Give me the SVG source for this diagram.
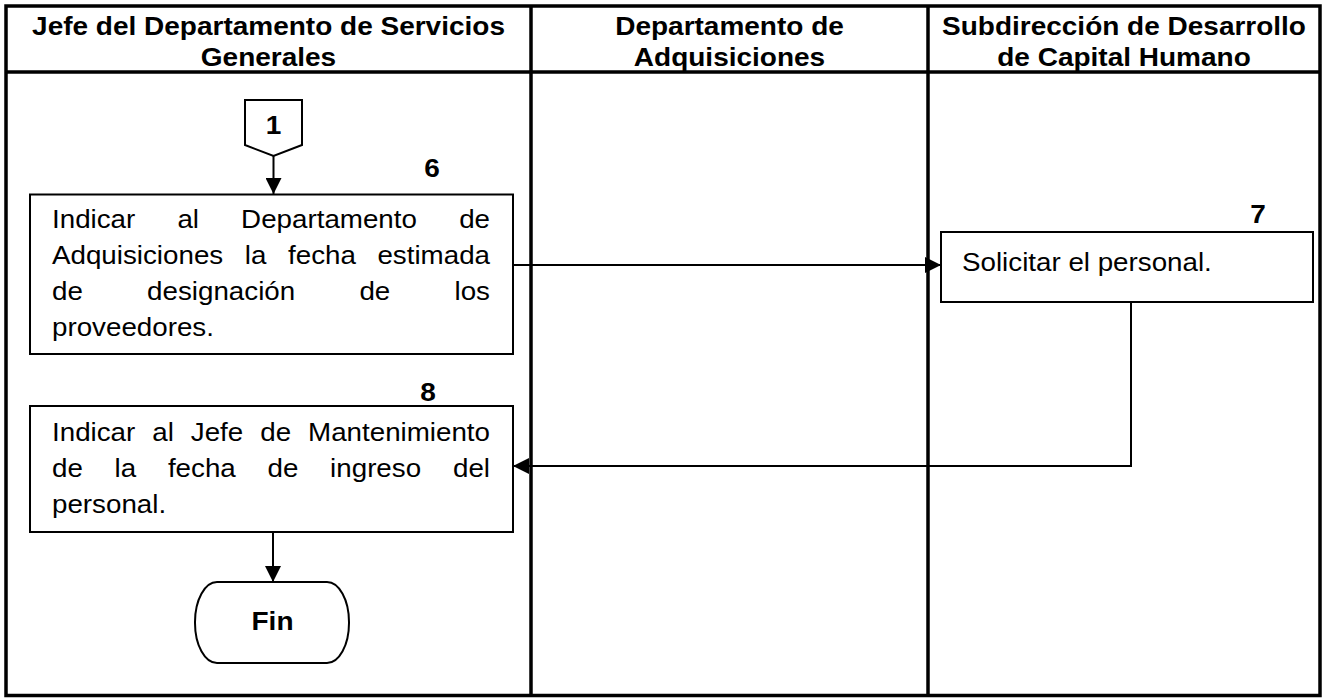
<svg xmlns="http://www.w3.org/2000/svg" width="1328" height="698" viewBox="0 0 1328 698">
<style>
.frame{fill:none;stroke:#000;stroke-width:3.5}
.box{fill:#fff;stroke:#000;stroke-width:2}
.conn{fill:none;stroke:#000;stroke-width:2}
.h{font-family:"Liberation Sans",Arial,sans-serif;font-weight:bold;font-size:25px;fill:#000}
.t{font-family:"Liberation Sans",Arial,sans-serif;font-size:25px;fill:#000}
.c{text-anchor:middle}
.e{text-anchor:end}
</style>
<defs>
<marker id="arr" markerUnits="userSpaceOnUse" markerWidth="17" markerHeight="16" refX="16" refY="8" orient="auto">
<path d="M0,0 L16,8 L0,16 Z" fill="#000"/>
</marker>
</defs>
<rect width="1328" height="698" fill="#fff"/>
<g id="lanes">
<rect class="frame" x="6" y="6" width="1314" height="689.5"/>
<line class="frame" x1="6" y1="72" x2="1320" y2="72"/>
<line class="frame" x1="531" y1="6" x2="531" y2="695.5"/>
<line class="frame" x1="928" y1="6" x2="928" y2="695.5"/>
<text class="h c" transform="translate(268.5,35) scale(1.12,1)">Jefe del Departamento de Servicios</text>
<text class="h c" transform="translate(268.5,66) scale(1.12,1)">Generales</text>
<text class="h c" transform="translate(729.5,35) scale(1.12,1)">Departamento de</text>
<text class="h c" transform="translate(729.5,66) scale(1.12,1)">Adquisiciones</text>
<text class="h c" transform="translate(1124,35) scale(1.12,1)">Subdirección de Desarrollo</text>
<text class="h c" transform="translate(1124,66) scale(1.12,1)">de Capital Humano</text>
</g>
<g id="connectors">
<line class="conn" x1="273.5" y1="156" x2="273.5" y2="194" marker-end="url(#arr)"/>
<line class="conn" x1="513" y1="265" x2="941" y2="265" marker-end="url(#arr)"/>
<polyline class="conn" points="1131,302 1131,466 513,466" marker-end="url(#arr)"/>
<line class="conn" x1="273" y1="532" x2="273" y2="582" marker-end="url(#arr)"/>
</g>
<g id="connector1">
<polygon class="box" points="245,100 302,100 302,145 273.5,156 245,145"/>
<text class="h c" transform="translate(273.5,134) scale(1.12,1)">1</text>
</g>
<g id="step6">
<rect class="box" x="30" y="194.5" width="483" height="159.5"/>
<text class="h c" transform="translate(432,177) scale(1.12,1)">6</text>
<text class="t" transform="translate(52,228) scale(1.11,1)">Indicar</text>
<text class="t" transform="translate(177.4,228) scale(1.11,1)">al</text>
<text class="t" transform="translate(241.1,228) scale(1.11,1)">Departamento</text>
<text class="t e" transform="translate(490,228) scale(1.11,1)">de</text>
<text class="t" transform="translate(52,264) scale(1.11,1)">Adquisiciones</text>
<text class="t" transform="translate(244.8,264) scale(1.11,1)">la</text>
<text class="t" transform="translate(288,264) scale(1.11,1)">fecha</text>
<text class="t e" transform="translate(490,264) scale(1.11,1)">estimada</text>
<text class="t" transform="translate(52,300) scale(1.11,1)">de</text>
<text class="t" transform="translate(147.1,300) scale(1.11,1)">designación</text>
<text class="t" transform="translate(359.4,300) scale(1.11,1)">de</text>
<text class="t e" transform="translate(490,300) scale(1.11,1)">los</text>
<text class="t" transform="translate(52,336) scale(1.11,1)">proveedores.</text>
</g>
<g id="step7">
<rect class="box" x="941" y="232" width="372" height="70"/>
<text class="h c" transform="translate(1258,223) scale(1.12,1)">7</text>
<text class="t" transform="translate(962,271) scale(1.11,1)">Solicitar el personal.</text>
</g>
<g id="step8">
<rect class="box" x="30" y="406" width="483" height="126"/>
<text class="h c" transform="translate(428,401) scale(1.12,1)">8</text>
<text class="t" transform="translate(52,441) scale(1.11,1)">Indicar</text>
<text class="t" transform="translate(152.3,441) scale(1.11,1)">al</text>
<text class="t" transform="translate(190.8,441) scale(1.11,1)">Jefe</text>
<text class="t" transform="translate(260.2,441) scale(1.11,1)">de</text>
<text class="t e" transform="translate(490,441) scale(1.11,1)">Mantenimiento</text>
<text class="t" transform="translate(52,477) scale(1.11,1)">de</text>
<text class="t" transform="translate(114.6,477) scale(1.11,1)">la</text>
<text class="t" transform="translate(167.9,477) scale(1.11,1)">fecha</text>
<text class="t" transform="translate(267.5,477) scale(1.11,1)">de</text>
<text class="t" transform="translate(330.1,477) scale(1.11,1)">ingreso</text>
<text class="t e" transform="translate(490,477) scale(1.11,1)">del</text>
<text class="t" transform="translate(52,513) scale(1.11,1)">personal.</text>
</g>
<g id="fin">
<rect class="box" x="195" y="582" width="154" height="81" rx="22" ry="40"/>
<text class="h c" transform="translate(272.5,630) scale(1.12,1)">Fin</text>
</g>
</svg>
